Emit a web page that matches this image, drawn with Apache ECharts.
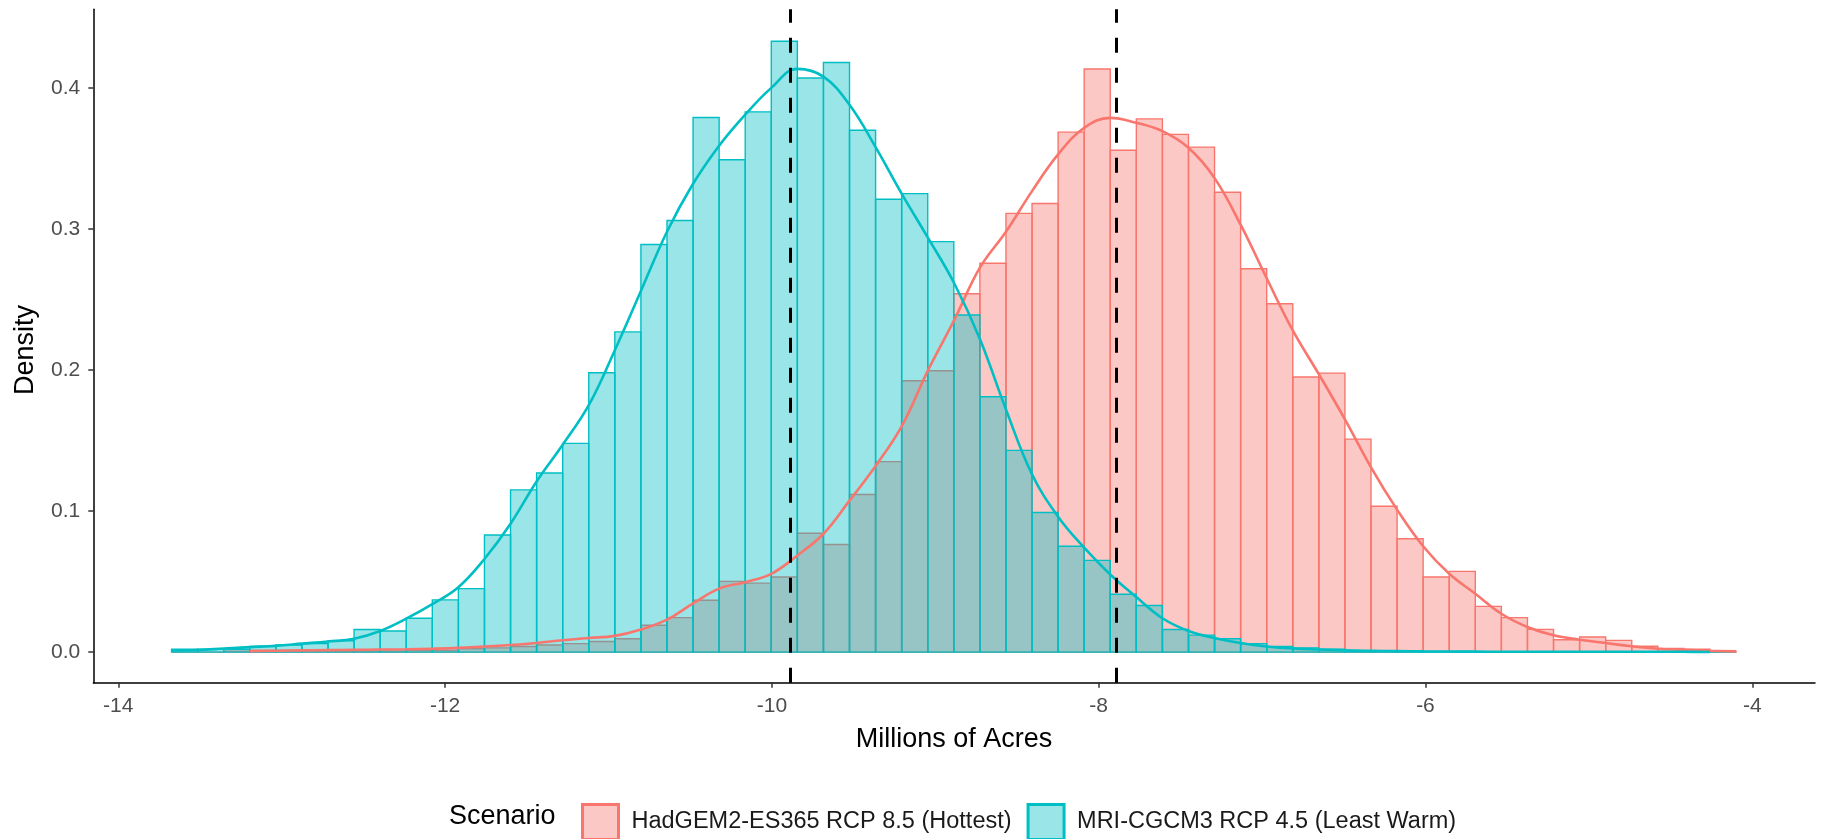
<!DOCTYPE html>
<html>
<head>
<meta charset="utf-8">
<script src="https://cdn.jsdelivr.net/npm/echarts@6/dist/echarts.min.js"></script>
<style>
html,body{margin:0;padding:0;background:#fff;}
#chart{width:1825px;height:839px;}
</style>
</head>
<body>
<div id="chart"></div>
<script>
// ---------- DATA ----------
const seriesNames = ['HadGEM2-ES365 RCP 8.5 (Hottest)', 'MRI-CGCM3 RCP 4.5 (Least Warm)'];
const legendTitle = 'Scenario';
const xTitle = 'Millions of Acres';
const yTitle = 'Density';

// histogram bins (shared by both scenarios)
const binStart = -13.674;
const binWidth = 0.15958;

// density of each bin (60 bins)
const hadgemHist = [
  0, 0, 0.0006, 0.0012, 0.0012, 0.0006, 0.0006, 0.0006, 0.0006, 0.0012,
  0.0012, 0.0024, 0.003, 0.004, 0.005, 0.006, 0.0075, 0.0095, 0.019, 0.0244,
  0.0367, 0.0501, 0.0489, 0.0532, 0.0843, 0.0763, 0.1117, 0.135, 0.1924, 0.1995,
  0.254, 0.2757, 0.311, 0.318, 0.3686, 0.4134, 0.3558, 0.378, 0.367, 0.358,
  0.326, 0.2718, 0.247, 0.195, 0.1978, 0.151, 0.1034, 0.0803, 0.0532, 0.0572,
  0.0324, 0.0244, 0.0161, 0.0088, 0.0107, 0.0083, 0.0041, 0.0025, 0.002, 0.0007
];
const mriHist = [
  0.002, 0.002, 0.002, 0.004, 0.005, 0.006, 0.008, 0.016, 0.015, 0.024,
  0.037, 0.045, 0.083, 0.115, 0.127, 0.148, 0.198, 0.227, 0.289, 0.306,
  0.379, 0.349, 0.383, 0.433, 0.407, 0.418, 0.370, 0.321, 0.325, 0.291,
  0.239, 0.181, 0.143, 0.099, 0.075, 0.065, 0.041, 0.033, 0.016, 0.012,
  0.0095, 0.006, 0.004, 0.003, 0.002, 0.001, 0.001, 0.0005, 0.0005, 0.0005,
  0, 0, 0, 0, 0, 0, 0, 0, 0, 0
];

// smoothed density curves, read at the bin edges (61 edges)
const hadgemDensity = [
  null, null, null, 0.0007, 0.001, 0.0012, 0.0014, 0.0016, 0.0018, 0.002,
  0.0024, 0.003, 0.004, 0.005, 0.0065, 0.0084, 0.010, 0.0115, 0.016, 0.023,
  0.0345, 0.045, 0.0496, 0.0555, 0.0685, 0.0839, 0.1074, 0.132, 0.160, 0.1994,
  0.2348, 0.2725, 0.298, 0.3268, 0.3528, 0.3716, 0.3787, 0.3752, 0.3693, 0.3575,
  0.336, 0.303, 0.265, 0.228, 0.197, 0.165, 0.131, 0.101, 0.075, 0.0555,
  0.0414, 0.0272, 0.0178, 0.0119, 0.0088, 0.0064, 0.0041, 0.0024, 0.0017, 0.001,
  0.0005
];
const mriDensity = [
  0.0012, 0.0015, 0.0025, 0.0035, 0.0045, 0.006, 0.0075, 0.0095, 0.015, 0.0237,
  0.034, 0.046, 0.066, 0.091, 0.121, 0.147, 0.175, 0.214, 0.256, 0.298,
  0.332, 0.359, 0.381, 0.400, 0.4135, 0.408, 0.388, 0.358, 0.325, 0.294,
  0.262, 0.222, 0.172, 0.126, 0.096, 0.074, 0.055, 0.039, 0.024, 0.015,
  0.010, 0.0065, 0.004, 0.0025, 0.0018, 0.0012, 0.0009, 0.0007, 0.0005, 0.0004,
  0.0003, 0.0002, 0.0002, 0.0002, 0.0002, 0.0002, 0.0002, 0.0002, 0.0002, 0.0001,
  null
];

// scenario means (dashed lines)
const hadgemMean = -7.895;
const mriMean = -9.89;

const xTicks = [-14, -12, -10, -8, -6, -4];
const yTicks = [0, 0.1, 0.2, 0.3, 0.4];

// ---------- STYLE ----------
const FONT = '"Liberation Sans", Arial, sans-serif';
const RED = '#F8766D', CYAN = '#00BFC4';
const RED_FILL = 'rgba(248,118,109,0.4)', CYAN_FILL = 'rgba(0,191,196,0.4)';

function edge(i) { return binStart + i * binWidth; }

function histSeries(name, hist, fill, stroke, z) {
  return {
    type: 'custom',
    name: name,
    z: z,
    clip: true,
    itemStyle: { color: fill, borderColor: stroke, borderWidth: 3 },
    encode: { x: [0, 1], y: 2 },
    data: hist.map((d, i) => [edge(i), edge(i + 1), d]),
    renderItem: function (params, api) {
      const p0 = api.coord([api.value(0), api.value(2)]);
      const p1 = api.coord([api.value(1), 0]);
      return {
        type: 'rect',
        shape: { x: p0[0], y: p0[1], width: p1[0] - p0[0], height: p1[1] - p0[1] },
        style: { fill: fill, stroke: stroke, lineWidth: 1.4 }
      };
    }
  };
}

function densitySeries(name, dens, color, z, extra) {
  const pts = [];
  dens.forEach((d, i) => { if (d !== null) pts.push([edge(i), d]); });
  return Object.assign({
    type: 'line',
    name: name,
    z: z,
    data: pts,
    smooth: 0.4,
    showSymbol: false,
    symbol: 'none',
    silent: true,
    lineStyle: { color: color, width: 2.6 },
    itemStyle: { color: color }
  }, extra || {});
}

const chart = echarts.init(document.getElementById('chart'), null, { renderer: 'canvas' });

chart.setOption({
  animation: false,
  backgroundColor: '#ffffff',
  grid: { left: 93.3, right: 10, top: 9.3, bottom: 156.3 },
  xAxis: {
    type: 'value',
    min: -14.153,
    max: -3.616,
    splitLine: { show: false },
    axisLine: { show: true, onZero: false, lineStyle: { color: '#000', width: 1.5 } },
    axisTick: { show: true, customValues: xTicks, length: 5, lineStyle: { color: '#333', width: 1.5 } },
    axisLabel: { customValues: xTicks, color: '#4d4d4d', fontSize: 21, margin: 13, fontFamily: FONT,
      formatter: v => String(v) }
  },
  yAxis: {
    type: 'value',
    min: -0.0217,
    max: 0.4557,
    splitLine: { show: false },
    axisLine: { show: true, onZero: false, lineStyle: { color: '#000', width: 1.5 } },
    axisTick: { show: true, customValues: yTicks, length: 5, lineStyle: { color: '#333', width: 1.5 } },
    axisLabel: { customValues: yTicks, color: '#4d4d4d', fontSize: 21, margin: 13, fontFamily: FONT,
      formatter: v => v.toFixed(1) }
  },
  legend: {
    left: 576,
    top: 798,
    orient: 'horizontal',
    icon: 'rect',
    itemWidth: 36,
    itemHeight: 35,
    itemGap: 15,
    selectedMode: false,
    textStyle: { fontSize: 23.5, color: '#1a1a1a', fontFamily: FONT, padding: [0, 0, 0, 8] },
    data: [
      { name: seriesNames[0], itemStyle: { color: RED_FILL, borderColor: RED, borderWidth: 3 } },
      { name: seriesNames[1], itemStyle: { color: CYAN_FILL, borderColor: CYAN, borderWidth: 3 } }
    ]
  },
  graphic: [
    { type: 'text', x: 954, y: 740, style: { text: xTitle, fontSize: 27, fill: '#000', fontFamily: FONT, align: 'center', verticalAlign: 'middle' } },
    { type: 'text', x: 26, y: 350, rotation: Math.PI / 2, style: { text: yTitle, fontSize: 27, fill: '#000', fontFamily: FONT, align: 'center', verticalAlign: 'middle' } },
    { type: 'text', x: 449, y: 817, style: { text: legendTitle, fontSize: 27, fill: '#000', fontFamily: FONT, align: 'left', verticalAlign: 'middle' } }
  ],
  series: [
    histSeries(seriesNames[0], hadgemHist, RED_FILL, RED, 1),
    histSeries(seriesNames[1], mriHist, CYAN_FILL, CYAN, 2),
    densitySeries(seriesNames[0], hadgemDensity, RED, 3),
    densitySeries(seriesNames[1], mriDensity, CYAN, 4, {
      markLine: {
        silent: true,
        symbol: 'none',
        label: { show: false },
        lineStyle: { color: '#000', type: [15, 15], width: 3 },
        data: [{ xAxis: mriMean }, { xAxis: hadgemMean }]
      }
    })
  ]
});
</script>
</body>
</html>
